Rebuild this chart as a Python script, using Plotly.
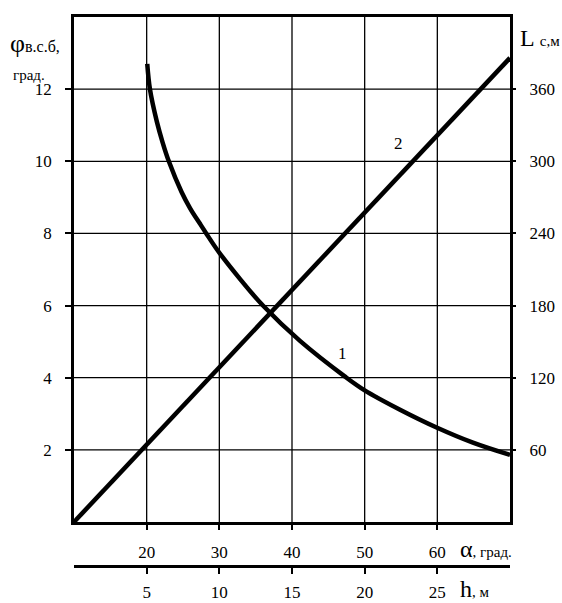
import plotly.graph_objects as go

# Curve 1: angle phi (deg) versus alpha (deg)
alpha = [20.08, 20.45, 21.4, 22.2, 23.05, 24.8, 26.0, 27.3, 28.2, 29.8, 33, 36, 41.1, 47.3, 50, 54.8, 59.9, 64.9, 70]
phi = [12.7, 12.0, 11.1, 10.52, 10.0, 9.15, 8.69, 8.28, 8.0, 7.52, 6.7, 6.0, 5.02, 4.03, 3.65, 3.12, 2.62, 2.2, 1.86]

# Curve 2: length L (m) versus depth h (m)
h = [0, 30]
L = [0, 386]

phi_ticks = [2, 4, 6, 8, 10, 12]
L_ticks = [60, 120, 180, 240, 300, 360]
alpha_ticks = [20, 30, 40, 50, 60]
h_ticks = [5, 10, 15, 20, 25]

W, H = 562, 603
ml, mr, mt, mb = 74, 52, 17, 37
plot_bottom = 522
ydom0 = (H - mb - plot_bottom) / (H - mt - mb)

FONT = "Liberation Serif"
tickfont = dict(family=FONT, size=17, color="black")


def px(xp):
    return (xp - ml) / (W - ml - mr)


def py(yp):
    return (H - mb - yp) / (H - mt - mb)


fig = go.Figure()
fig.add_trace(go.Scatter(
    x=alpha, y=phi, xaxis="x", yaxis="y", mode="lines",
    line=dict(color="black", width=4.5, shape="spline", smoothing=1.0),
    showlegend=False, hoverinfo="skip",
))
fig.add_trace(go.Scatter(
    x=h, y=L, xaxis="x2", yaxis="y2", mode="lines",
    line=dict(color="black", width=4.5),
    showlegend=False, hoverinfo="skip",
))

# grid lines on the alpha / phi scales
grid = dict(color="black", width=1.3)
shapes = []
for a in alpha_ticks:
    shapes.append(dict(type="line", xref="x", yref="y domain", x0=a, x1=a,
                       y0=0, y1=1, line=grid, layer="below"))
for p in phi_ticks:
    shapes.append(dict(type="line", xref="x domain", yref="y", x0=0, x1=1,
                       y0=p, y1=p, line=grid, layer="below"))

fig.update_layout(
    width=W, height=H,
    margin=dict(l=ml, r=mr, t=mt, b=mb, autoexpand=False),
    paper_bgcolor="white", plot_bgcolor="white",
    font=dict(family=FONT, color="black"),
    shapes=shapes,
    xaxis=dict(
        range=[10, 70], tickvals=alpha_ticks, ticks="outside", ticklen=5,
        tickwidth=1.5, tickcolor="black", ticklabelstandoff=8,
        showgrid=False,
        showline=True, linecolor="black", linewidth=2.5, mirror=True,
        zeroline=False, tickfont=tickfont, anchor="y", automargin=False,
    ),
    xaxis2=dict(
        range=[0, 30], tickvals=h_ticks, ticks="outside", ticklen=6,
        tickwidth=1.5, tickcolor="black", ticklabelstandoff=4,
        showgrid=False, showline=True, linecolor="black", linewidth=2.5,
        zeroline=False, tickfont=tickfont, overlaying="x",
        anchor="free", position=0, side="bottom", automargin=False,
    ),
    yaxis=dict(
        range=[0, 14], tickvals=phi_ticks, ticks="outside", ticklen=6,
        tickwidth=1.5, tickcolor="black", ticklabelstandoff=10,
        showgrid=False,
        showline=True, linecolor="black", linewidth=2.5, mirror=True,
        zeroline=False, tickfont=tickfont, domain=[ydom0, 1], anchor="x",
        automargin=False,
    ),
    yaxis2=dict(
        range=[0, 420], tickvals=L_ticks, ticks="outside", ticklen=5,
        tickwidth=1.5, tickcolor="black", ticklabelstandoff=10,
        showgrid=False, showline=False, zeroline=False, tickfont=tickfont,
        overlaying="y", side="right", anchor="x", automargin=False,
    ),
)

ann = []
# curve labels
ann.append(dict(x=47.0, y=4.68, xref="x", yref="y", text="1", showarrow=False,
                font=dict(family=FONT, size=17)))
ann.append(dict(x=22.3, y=315, xref="x2", yref="y2", text="2", showarrow=False,
                font=dict(family=FONT, size=17)))
# axis titles
titles = [
    (8, 43, "φ<span style='font-size:16px'>в.с.б,</span>", 26),
    (11, 75, "град.", 15),
    (518, 38, "L <span style='font-size:15px'>с,м</span>", 24),
    (458, 549, "α<span style='font-size:15px'>, град.</span>", 24),
    (458, 589, "h<span style='font-size:15px'>, м</span>", 24),
]
for x, y, text, size in titles:
    ann.append(dict(x=px(x), y=py(y), xref="paper", yref="paper",
                    xanchor="left", yanchor="middle", text=text,
                    showarrow=False, font=dict(family=FONT, size=size)))
fig.update_layout(annotations=ann)

fig.write_html("out.html")
